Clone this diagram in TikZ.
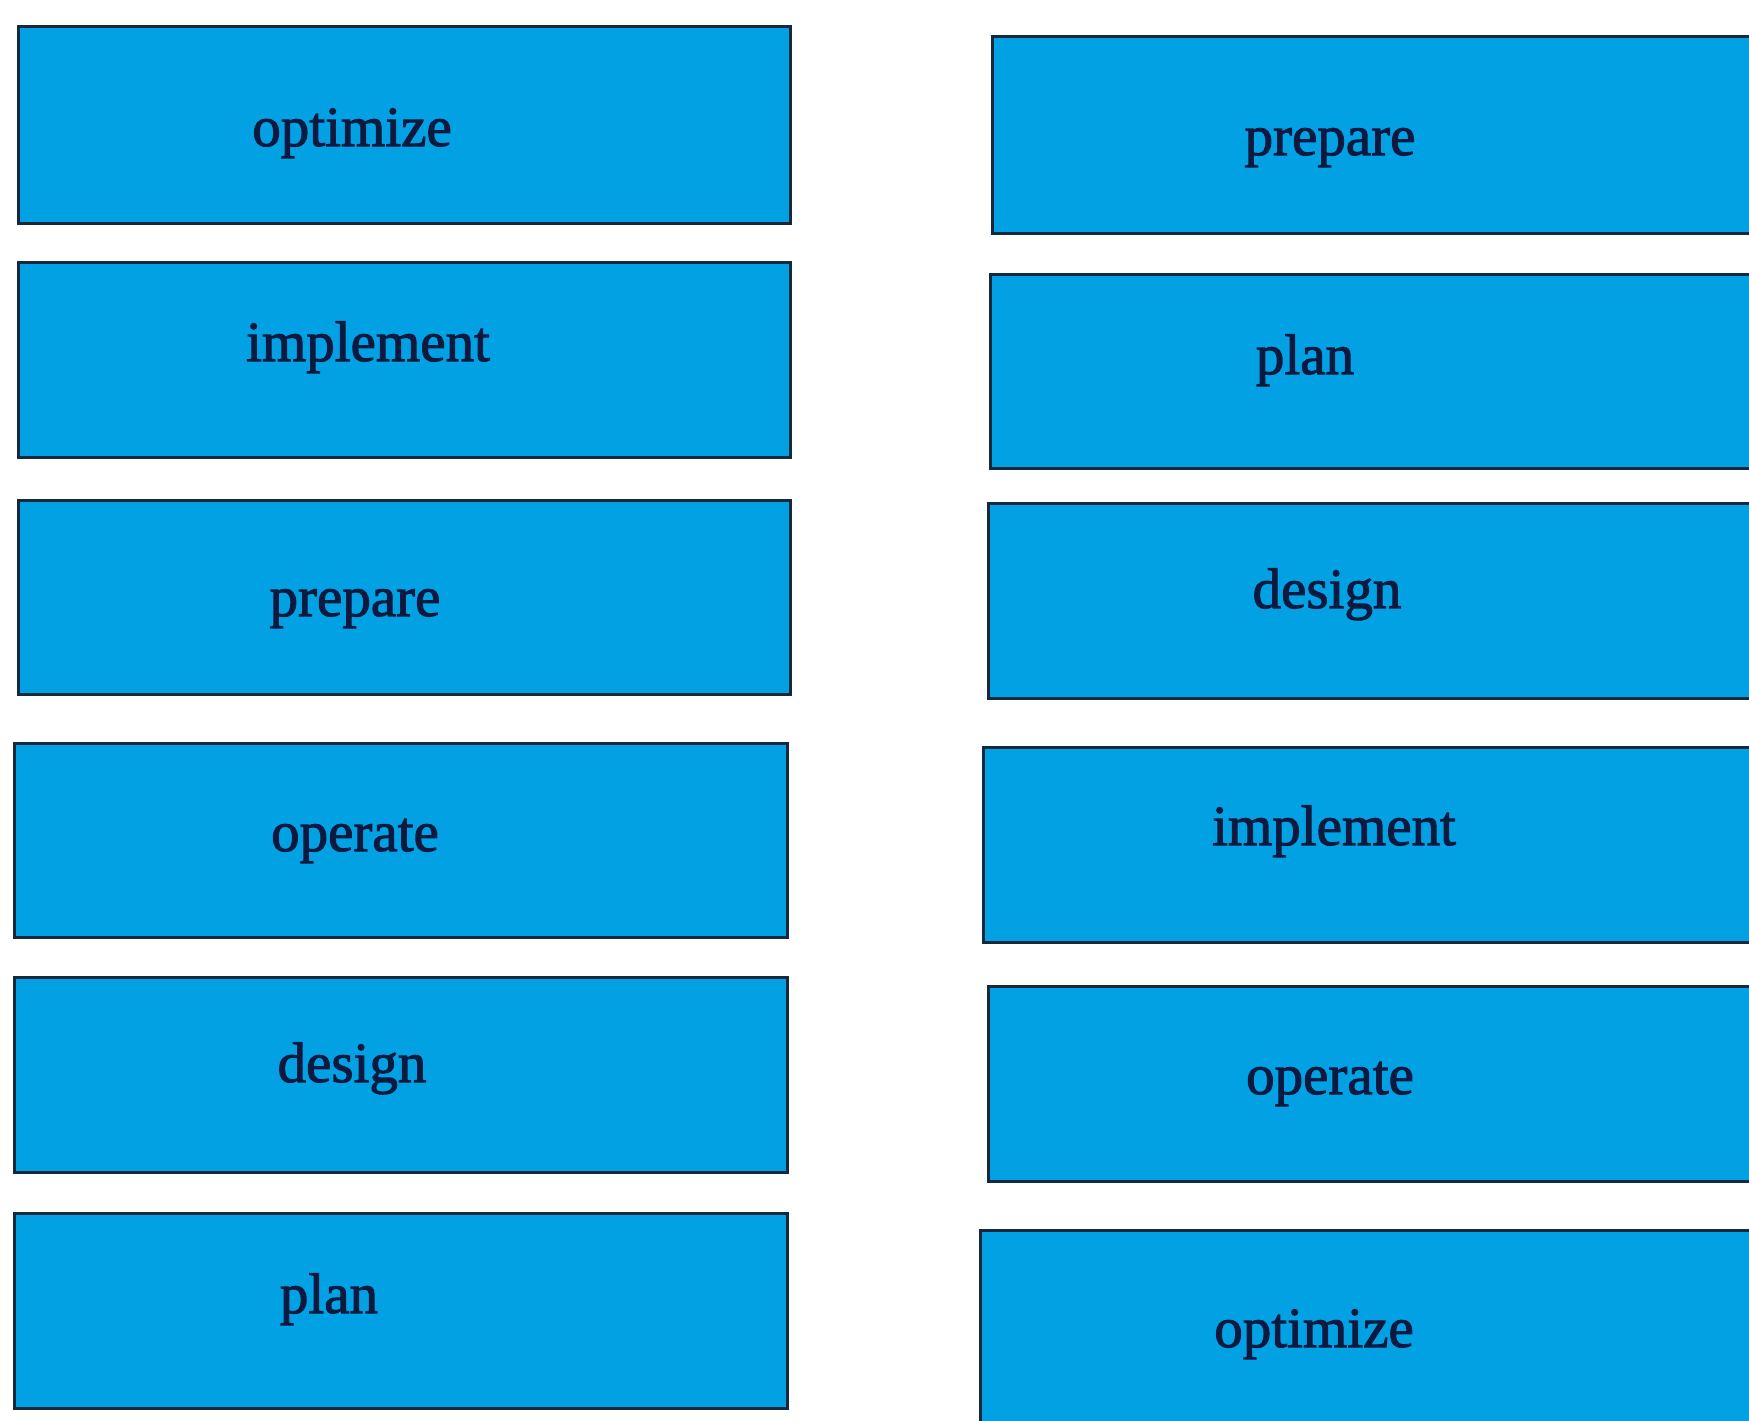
\documentclass[tikz,border=0pt]{standalone}
\usepackage{fontspec}
\setmainfont{Liberation Serif}
\newfontfamily\cardfont{Liberation Serif}[FakeBold=1.8]
\definecolor{boxfill}{RGB}{2,161,228}
\definecolor{boxline}{RGB}{20,40,62}
\definecolor{txt}{RGB}{12,26,64}
\tikzset{
  card/.style={fill=boxfill, draw=boxline, line width=3pt},
  lbl/.style={anchor=base, inner sep=0pt, text=txt, font=\cardfont\fontsize{57}{60}\selectfont}
}
\begin{document}
\begin{tikzpicture}[x=1pt,y=-1pt]
\useasboundingbox (0,0) rectangle (1749,1421);
\fill[white] (0,0) rectangle (1749,1421);
% left column
\draw[card] (18,27) rectangle (790,223);
\draw[card] (18,262) rectangle (790,457);
\draw[card] (18,500) rectangle (790,694);
\draw[card] (14.5,743) rectangle (787,937);
\draw[card] (14.5,977) rectangle (787,1172);
\draw[card] (14,1213) rectangle (787,1408);
\node[lbl] (l1) at (352,146) {optimize};
\node[lbl] (l2) at (368,361) {implement};
\node[lbl] (l3) at (355,616) {prepare};
\node[lbl] (l4) at (355,851) {operate};
\node[lbl] (l5) at (352,1082) {design};
\node[lbl] (l6) at (329,1313) {plan};
% right column
\draw[card] (992,37) rectangle (1765,233);
\draw[card] (990,274) rectangle (1765,468);
\draw[card] (988,503) rectangle (1765,698);
\draw[card] (983,747) rectangle (1765,942);
\draw[card] (988,986) rectangle (1765,1181);
\draw[card] (980,1230) rectangle (1765,1440);
\node[lbl] (r1) at (1330,155) {prepare};
\node[lbl] (r2) at (1305,374) {plan};
\node[lbl] (r3) at (1327,608) {design};
\node[lbl] (r4) at (1334,845) {implement};
\node[lbl] (r5) at (1330,1094) {operate};
\node[lbl] (r6) at (1314,1347) {optimize};
\end{tikzpicture}
\end{document}
